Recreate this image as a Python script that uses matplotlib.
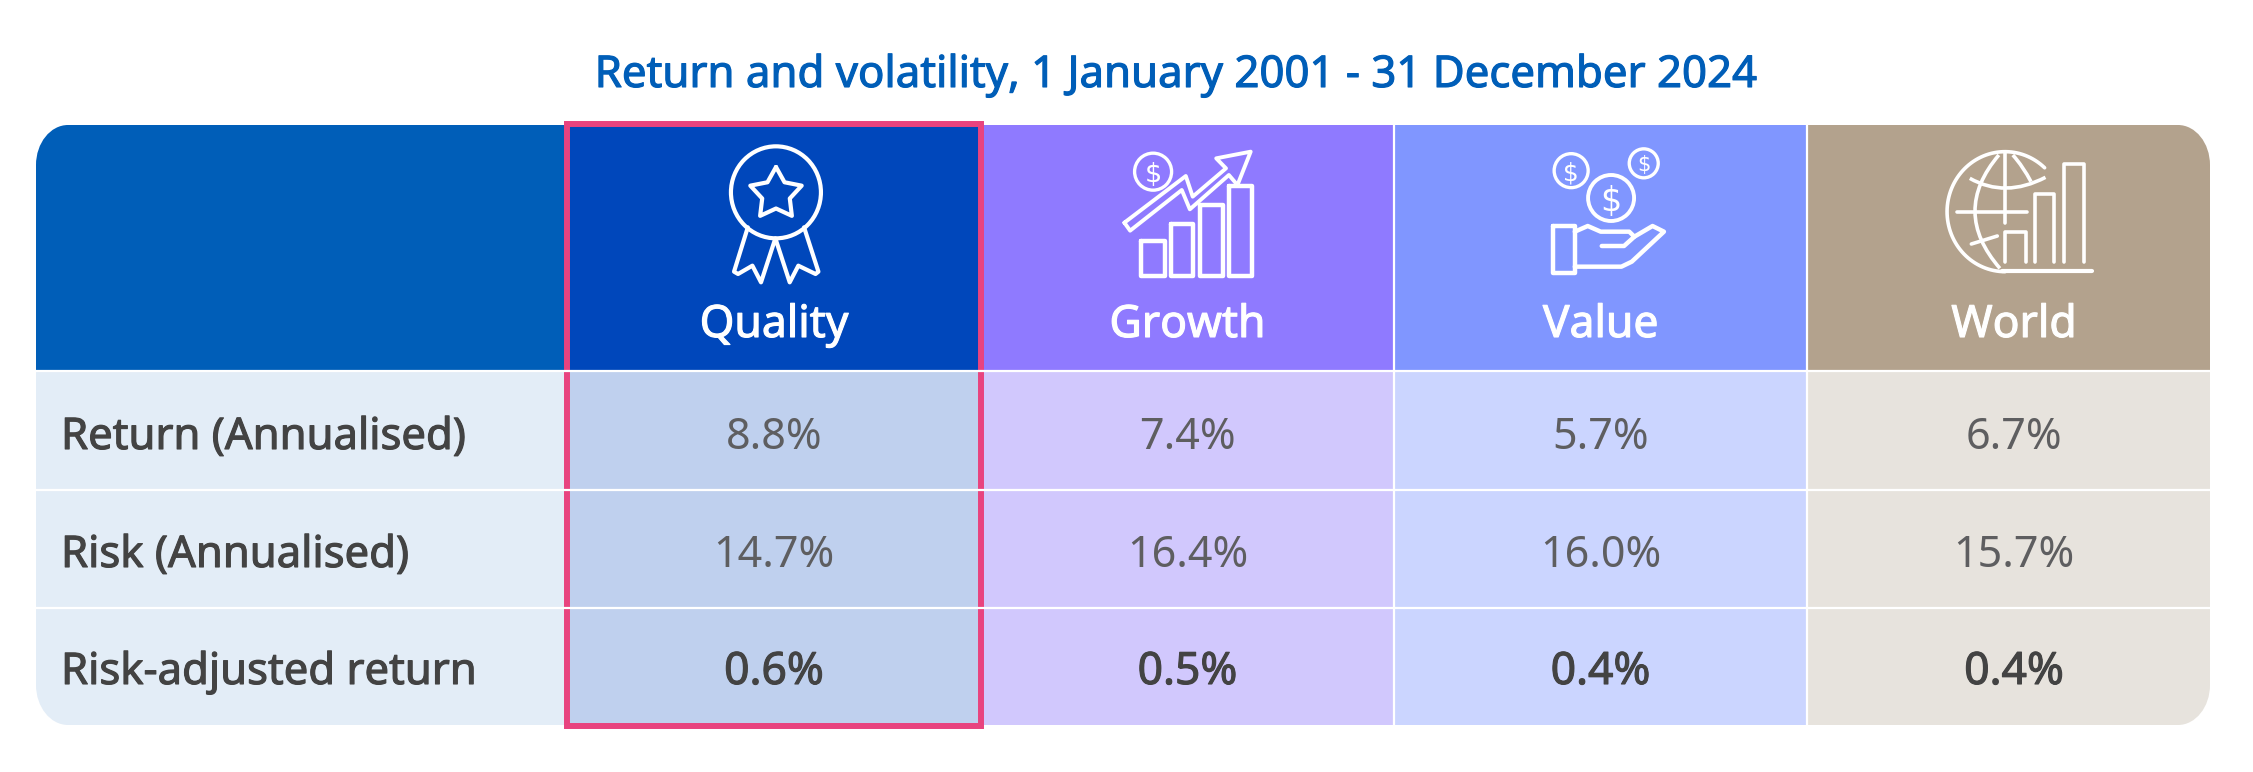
import numpy as np
import matplotlib
matplotlib.use("Agg")
from matplotlib import pyplot as plt
from matplotlib import patheffects as pe
from matplotlib.patches import Rectangle, PathPatch, Ellipse
from matplotlib.path import Path

TITLE = "Return and volatility, 1 January 2001 - 31 December 2024"
FACTORS = ["Quality", "Growth", "Value", "World"]
ROW_LABELS = ["Return (Annualised)", "Risk (Annualised)", "Risk-adjusted return"]
RETURNS = [8.8, 7.4, 5.7, 6.7]
RISK = [14.7, 16.4, 16.0, 15.7]
RISK_ADJ = [0.6, 0.5, 0.4, 0.4]

HEAD_COLORS = ["#005EB8", "#0047BB", "#8F7AFF", "#8096FF", "#B3A28D"]
BODY_COLORS = ["#E3EDF7", "#BFD0EE", "#D1C8FD", "#CBD5FF", "#E7E3DD"]
PINK = "#E8437F"
TXT = "#434343"
TXT_LIGHT = "#5E5E60"
FONT = "Noto Sans"

W, H = 2253, 772
X_EDGES = [36, 567, 981, 1394, 1807, 2210]
Y_EDGES = [125, 371, 490, 608, 725]

fig = plt.figure(figsize=(W / 100, H / 100), dpi=100)
ax = fig.add_axes([0, 0, 1, 1])
ax.set_xlim(0, W)
ax.set_ylim(H, 0)
ax.axis("off")


def rounded_clip(x0, y0, x1, y1, rx=32, ry=40):
	# bezier corners, the table corners are a bit taller than wide
	k = 0.45
	verts = [(x0 + rx, y0), (x1 - rx, y0),
	         (x1 - rx * k, y0), (x1, y0 + ry * k), (x1, y0 + ry), (x1, y1 - ry),
	         (x1, y1 - ry * k), (x1 - rx * k, y1), (x1 - rx, y1), (x0 + rx, y1),
	         (x0 + rx * k, y1), (x0, y1 - ry * k), (x0, y1 - ry), (x0, y0 + ry),
	         (x0, y0 + ry * k), (x0 + rx * k, y0), (x0 + rx, y0)]
	codes = [Path.MOVETO, Path.LINETO,
	         Path.CURVE4, Path.CURVE4, Path.CURVE4, Path.LINETO,
	         Path.CURVE4, Path.CURVE4, Path.CURVE4, Path.LINETO,
	         Path.CURVE4, Path.CURVE4, Path.CURVE4, Path.LINETO,
	         Path.CURVE4, Path.CURVE4, Path.CURVE4]
	return PathPatch(Path(verts, codes), transform=ax.transData, fc="none", ec="none")


clip = rounded_clip(X_EDGES[0], Y_EDGES[0], X_EDGES[-1], Y_EDGES[-1])
ax.add_patch(clip)

for c in range(5):
	x0, x1 = X_EDGES[c], X_EDGES[c + 1]
	r = Rectangle((x0, Y_EDGES[0]), x1 - x0, Y_EDGES[1] - Y_EDGES[0], fc=HEAD_COLORS[c], ec="none")
	ax.add_patch(r)
	r.set_clip_path(clip)
	r = Rectangle((x0, Y_EDGES[1]), x1 - x0, Y_EDGES[-1] - Y_EDGES[1], fc=BODY_COLORS[c], ec="none")
	ax.add_patch(r)
	r.set_clip_path(clip)

# white grid lines
for y in Y_EDGES[1:-1]:
	ax.plot([X_EDGES[0], X_EDGES[-1]], [y, y], color="white", lw=1.6, solid_capstyle="butt")
for x in X_EDGES[3:-1]:
	ax.plot([x, x], [Y_EDGES[0], Y_EDGES[-1]], color="white", lw=1.6, solid_capstyle="butt")


def medium(color):
	# only regular and bold are installed, thicken the regular a little
	return [pe.withStroke(linewidth=0.8, foreground=color)]


ax.text(1176, 87, TITLE, color=HEAD_COLORS[0], fontsize=31.5, family=FONT, ha="center", va="baseline",
        path_effects=medium(HEAD_COLORS[0]))

centres = [(X_EDGES[i] + X_EDGES[i + 1]) / 2 for i in range(1, 4)] + [2014]
for cx, name in zip(centres, FACTORS):
	ax.text(cx, 337, name, color="white", fontsize=32, family=FONT, ha="center", va="baseline",
	        path_effects=medium("white"))

baselines = [449, 567, 684]
rows = [RETURNS, RISK, RISK_ADJ]
for i, (label, vals) in enumerate(zip(ROW_LABELS, rows)):
	ax.text(61, baselines[i], label, color=TXT, fontsize=31.4, family=FONT, ha="left", va="baseline",
	        path_effects=medium(TXT))
	for cx, v in zip(centres, vals):
		if i == 2:
			ax.text(cx, baselines[i], f"{v:.1f}%", color=TXT, fontsize=32, family=FONT, ha="center", va="baseline",
			        path_effects=medium(TXT))
		else:
			ax.text(cx, baselines[i], f"{v:.1f}%", color=TXT_LIGHT, fontsize=31, family=FONT, ha="center", va="baseline")

# highlight around quality column
ax.add_patch(Rectangle((X_EDGES[1], 124), X_EDGES[2] - X_EDGES[1], 601.5, fc="none", ec=PINK, lw=4.3, joinstyle="miter"))


# icons, traced by hand in crop coordinates of each column
def z1(p):
	return [(540 + x / 1.742, 100 + y / 3) for x, y in p]


def z2(p):
	return [(1440 + x / 1.929, 100 + y / 3) for x, y in p]


def line(pts, lw=3.0, closed=False):
	if closed:
		pts = pts + pts[:1]
	xs, ys = zip(*pts)
	ax.plot(xs, ys, color="white", lw=lw, solid_joinstyle="round", solid_capstyle="round")


def curve(a, b, c, lw=3.0):
	ax.add_patch(PathPatch(Path([a, b, c], [Path.MOVETO, Path.CURVE3, Path.CURVE3]), fc="none", ec="white", lw=lw))


def coin(cx, cy, r, lw=2.4):
	ax.add_patch(Ellipse((cx, cy), 2 * r, 2 * r, fc="none", ec="white", lw=lw))
	ax.text(cx, cy, "$", color="white", fontsize=r * 1.05, family="DejaVu Sans", ha="center", va="center_baseline")


# quality medal
mc = z1([(411, 277)])[0]
ax.add_patch(Ellipse(mc, 90, 92, fc="none", ec="white", lw=3.0))
ang = np.deg2rad(np.arange(-90, 270, 36))
star_r = np.where(np.arange(10) % 2 == 0, 27, 14.5)
star = list(zip(776 + star_r * np.cos(ang), 194 + star_r * np.sin(ang)))
line(star, lw=3.0, closed=True)
line(z1([(362, 382), (338, 515), (345, 522), (370, 497), (385, 547), (410, 415), (435, 547), (450, 497), (480, 522), (485, 515), (460, 382)]))

# growth chart
for bx0, by0, bx1 in [(1047, 423, 1088), (1099, 372, 1138), (1150, 315, 1190), (1201, 258, 1240)]:
	line(z1([(bx0, by0), (bx1, by0), (bx1, 527), (bx0, 527)]), lw=3.2, closed=True)
line(z1([(1018, 368), (1125, 228), (1137, 290), (1195, 205), (1178, 175), (1238, 155), (1215, 255), (1200, 225), (1132, 328), (1118, 270), (1028, 392)]), lw=2.8, closed=True)
coin(*z1([(1068, 215)])[0], 18.5)

# value hand and coins
coin(*z2([(253, 212)])[0], 17)
coin(*z2([(393, 190)])[0], 14.5)
coin(*z2([(330, 294)])[0], 23, lw=2.8)
line(z2([(218, 378), (260, 378), (260, 518), (218, 518)]), lw=3.2, closed=True)
line(z2([(260, 395), (285, 378), (310, 395), (365, 395), (375, 410), (355, 438), (312, 438)]), lw=3.2)
line(z2([(375, 410), (410, 378), (432, 395), (370, 485), (350, 500), (260, 500)]), lw=3.2)

# world globe
gc = z2([(1090, 335)])[0]
t = np.deg2rad(np.linspace(-47, -270, 80))
line(list(zip(gc[0] + 58 * np.cos(t), gc[1] + 60 * np.sin(t))), lw=2.6)
a, b, c = z2([(1022, 235), (1090, 295), (1168, 232)])
curve(a, b, c, lw=2.6)
a, b, c = z2([(1078, 165), (985, 335), (1080, 505)])
curve(a, b, c, lw=2.6)
a, b, c = z2([(1105, 165), (1125, 200), (1140, 245)])
curve(a, b, c, lw=2.6)
line(z2([(1090, 155), (1090, 370)]), lw=2.6)
line(z2([(998, 335), (1132, 335)]), lw=2.6)
line(z2([(1025, 432), (1075, 408)]), lw=2.6)
line(z2([(1090, 485), (1090, 395), (1130, 395), (1130, 485)]), lw=2.6)
line(z2([(1147, 485), (1147, 282), (1185, 282), (1185, 485)]), lw=2.6)
line(z2([(1203, 485), (1203, 192), (1242, 192), (1242, 485)]), lw=2.6)
line(z2([(1085, 512), (1257, 512)]), lw=3.0)

fig.savefig("out.png", dpi=100, facecolor="white")
